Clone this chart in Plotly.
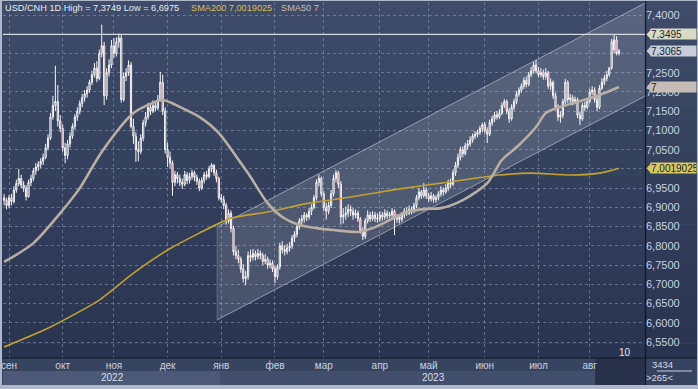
import plotly.graph_objects as go
import pandas as pd

# ---------------- data (USD/CNH daily, 30 Aug 2022 .. 17 Aug 2023) ----------------
opens = [
    6.925, 6.918, 6.905, 6.925, 6.915, 6.945, 6.962, 6.975, 6.958, 6.950,
    6.928, 6.965, 6.975, 6.995, 7.005, 7.012, 7.020, 7.030, 7.055, 7.080,
    7.135, 7.165, 7.175, 7.125, 7.105, 7.055, 7.035, 7.065, 7.085, 7.110,
    7.135, 7.150, 7.170, 7.185, 7.195, 7.205, 7.225, 7.245, 7.262, 7.235,
    7.300, 7.320, 7.190, 7.250, 7.270, 7.320, 7.300, 7.330, 7.340, 7.180,
    7.240, 7.250, 7.270, 7.110, 7.085, 7.050, 7.045, 7.080, 7.120, 7.135,
    7.160, 7.150, 7.165, 7.158, 7.180, 7.225, 7.150, 7.050, 7.030, 7.015,
    6.965, 6.985, 6.975, 6.965, 6.960, 6.985, 6.970, 6.980, 6.990, 6.978,
    6.968, 6.950, 6.970, 6.985, 6.980, 7.000, 7.010, 6.990, 6.975, 6.925,
    6.920, 6.905, 6.865, 6.885, 6.845, 6.785, 6.775, 6.765, 6.740, 6.715,
    6.720, 6.775, 6.770, 6.780, 6.772, 6.780, 6.775, 6.760, 6.765, 6.750,
    6.755, 6.740, 6.720, 6.745, 6.800, 6.790, 6.785, 6.795, 6.800, 6.820,
    6.830, 6.850, 6.865, 6.870, 6.880, 6.875, 6.890, 6.900, 6.925, 6.965,
    6.975, 6.935, 6.900, 6.890, 6.905, 6.935, 6.975, 6.990, 6.960, 6.875,
    6.880, 6.885, 6.895, 6.890, 6.880, 6.885, 6.870, 6.840, 6.825, 6.865,
    6.880, 6.870, 6.880, 6.872, 6.870, 6.880, 6.875, 6.885, 6.878, 6.880,
    6.890, 6.870, 6.875, 6.868, 6.880, 6.890, 6.885, 6.895, 6.890, 6.905,
    6.925, 6.940, 6.930, 6.945, 6.930, 6.922, 6.930, 6.920, 6.925, 6.935,
    6.945, 6.940, 6.950, 6.965, 6.960, 6.990, 7.010, 7.030, 7.050, 7.040,
    7.060, 7.065, 7.075, 7.085, 7.090, 7.095, 7.105, 7.115, 7.100, 7.090,
    7.120, 7.130, 7.140, 7.135, 7.145, 7.165, 7.175, 7.150, 7.130, 7.160,
    7.175, 7.195, 7.205, 7.215, 7.230, 7.220, 7.245, 7.255, 7.270, 7.255,
    7.245, 7.250, 7.240, 7.250, 7.215, 7.225, 7.190, 7.160, 7.135, 7.140,
    7.175, 7.225, 7.180, 7.185, 7.175, 7.180, 7.140, 7.130, 7.165, 7.160,
    7.175, 7.200, 7.205, 7.180, 7.160, 7.210, 7.225, 7.235, 7.245, 7.262,
    7.310, 7.335, 7.300,
]
highs = [
    6.935, 6.925, 6.932, 6.935, 6.955, 6.972, 7.000, 6.985, 6.968, 6.958,
    6.972, 6.985, 7.002, 7.015, 7.020, 7.028, 7.040, 7.065, 7.090, 7.145,
    7.190, 7.268, 7.218, 7.140, 7.115, 7.068, 7.075, 7.095, 7.118, 7.142,
    7.160, 7.178, 7.195, 7.205, 7.215, 7.232, 7.255, 7.275, 7.280, 7.310,
    7.3749, 7.330, 7.262, 7.285, 7.335, 7.340, 7.342, 7.352, 7.348, 7.250,
    7.262, 7.282, 7.278, 7.130, 7.095, 7.072, 7.090, 7.128, 7.148, 7.172,
    7.168, 7.178, 7.175, 7.192, 7.252, 7.245, 7.160, 7.068, 7.045, 7.022,
    6.995, 6.992, 6.985, 6.975, 6.995, 6.992, 6.990, 6.998, 6.995, 6.985,
    6.975, 6.978, 6.992, 6.995, 7.008, 7.015, 7.012, 6.998, 6.980, 6.935,
    6.930, 6.912, 6.895, 6.892, 6.852, 6.800, 6.790, 6.772, 6.752, 6.735,
    6.785, 6.790, 6.792, 6.788, 6.792, 6.788, 6.782, 6.778, 6.772, 6.765,
    6.762, 6.748, 6.752, 6.808, 6.812, 6.802, 6.805, 6.810, 6.828, 6.838,
    6.858, 6.872, 6.880, 6.888, 6.885, 6.898, 6.908, 6.932, 6.972, 6.985,
    6.980, 6.942, 6.912, 6.915, 6.945, 6.985, 6.997, 6.995, 6.968, 6.898,
    6.902, 6.908, 6.905, 6.898, 6.895, 6.892, 6.875, 6.848, 6.872, 6.892,
    6.888, 6.890, 6.888, 6.885, 6.890, 6.888, 6.895, 6.892, 6.888, 6.898,
    6.895, 6.882, 6.882, 6.888, 6.898, 6.900, 6.905, 6.902, 6.912, 6.932,
    6.950, 6.945, 6.963, 6.952, 6.938, 6.940, 6.935, 6.932, 6.942, 6.955,
    6.952, 6.960, 6.972, 6.975, 6.998, 7.018, 7.040, 7.058, 7.058, 7.068,
    7.075, 7.085, 7.092, 7.098, 7.102, 7.112, 7.120, 7.122, 7.108, 7.128,
    7.138, 7.148, 7.150, 7.155, 7.172, 7.182, 7.180, 7.158, 7.168, 7.182,
    7.202, 7.212, 7.222, 7.238, 7.240, 7.252, 7.265, 7.278, 7.283, 7.265,
    7.262, 7.258, 7.262, 7.255, 7.235, 7.230, 7.198, 7.168, 7.150, 7.182,
    7.234, 7.230, 7.195, 7.192, 7.188, 7.185, 7.148, 7.172, 7.175, 7.182,
    7.208, 7.215, 7.212, 7.188, 7.218, 7.236, 7.244, 7.255, 7.265, 7.338,
    7.3495, 7.345, 7.312,
]
lows = [
    6.905, 6.895, 6.898, 6.905, 6.910, 6.938, 6.955, 6.950, 6.940, 6.918,
    6.925, 6.955, 6.968, 6.985, 6.995, 7.002, 7.010, 7.025, 7.048, 7.075,
    7.128, 7.150, 7.110, 7.095, 7.045, 7.015, 7.025, 7.055, 7.078, 7.102,
    7.125, 7.142, 7.160, 7.175, 7.185, 7.198, 7.218, 7.238, 7.225, 7.230,
    7.290, 7.166, 7.180, 7.240, 7.262, 7.288, 7.292, 7.315, 7.172, 7.175,
    7.228, 7.242, 7.105, 7.065, 7.018, 7.020, 7.038, 7.072, 7.110, 7.128,
    7.140, 7.145, 7.150, 7.152, 7.175, 7.140, 7.040, 7.005, 7.000, 6.930,
    6.955, 6.962, 6.955, 6.948, 6.955, 6.960, 6.962, 6.972, 6.968, 6.958,
    6.942, 6.945, 6.962, 6.972, 6.975, 6.992, 6.982, 6.965, 6.918, 6.912,
    6.895, 6.855, 6.858, 6.835, 6.775, 6.765, 6.755, 6.730, 6.705, 6.6975,
    6.712, 6.758, 6.762, 6.762, 6.765, 6.765, 6.750, 6.752, 6.740, 6.742,
    6.732, 6.703, 6.712, 6.738, 6.780, 6.775, 6.778, 6.785, 6.792, 6.810,
    6.822, 6.842, 6.855, 6.860, 6.865, 6.868, 6.880, 6.895, 6.918, 6.955,
    6.928, 6.890, 6.868, 6.882, 6.898, 6.928, 6.965, 6.950, 6.855, 6.858,
    6.868, 6.875, 6.878, 6.868, 6.872, 6.862, 6.832, 6.815, 6.818, 6.858,
    6.862, 6.865, 6.862, 6.860, 6.862, 6.865, 6.868, 6.870, 6.872, 6.872,
    6.828, 6.860, 6.858, 6.862, 6.872, 6.878, 6.880, 6.882, 6.885, 6.898,
    6.918, 6.922, 6.925, 6.922, 6.915, 6.915, 6.912, 6.912, 6.918, 6.928,
    6.930, 6.935, 6.942, 6.950, 6.955, 6.982, 7.002, 7.022, 7.030, 7.035,
    7.050, 7.058, 7.068, 7.078, 7.082, 7.088, 7.095, 7.092, 7.067, 7.085,
    7.112, 7.122, 7.128, 7.130, 7.140, 7.158, 7.142, 7.120, 7.125, 7.152,
    7.168, 7.188, 7.198, 7.208, 7.212, 7.215, 7.238, 7.248, 7.248, 7.238,
    7.238, 7.232, 7.232, 7.208, 7.205, 7.182, 7.152, 7.125, 7.120, 7.132,
    7.168, 7.172, 7.170, 7.165, 7.168, 7.132, 7.114, 7.125, 7.150, 7.155,
    7.170, 7.192, 7.172, 7.150, 7.155, 7.205, 7.218, 7.228, 7.240, 7.258,
    7.300, 7.295, 7.295,
]
closes = [
    6.918, 6.905, 6.925, 6.915, 6.945, 6.962, 6.975, 6.958, 6.950, 6.928,
    6.965, 6.975, 6.995, 7.005, 7.012, 7.020, 7.030, 7.055, 7.080, 7.135,
    7.165, 7.175, 7.125, 7.105, 7.055, 7.035, 7.065, 7.085, 7.110, 7.135,
    7.150, 7.170, 7.185, 7.195, 7.205, 7.225, 7.245, 7.262, 7.235, 7.300,
    7.320, 7.190, 7.250, 7.270, 7.320, 7.300, 7.330, 7.340, 7.180, 7.240,
    7.250, 7.270, 7.110, 7.085, 7.050, 7.045, 7.080, 7.120, 7.135, 7.160,
    7.150, 7.165, 7.158, 7.180, 7.225, 7.150, 7.050, 7.030, 7.015, 6.965,
    6.985, 6.975, 6.965, 6.960, 6.985, 6.970, 6.980, 6.990, 6.978, 6.968,
    6.950, 6.970, 6.985, 6.980, 7.000, 7.010, 6.990, 6.975, 6.925, 6.920,
    6.905, 6.865, 6.885, 6.845, 6.785, 6.775, 6.765, 6.740, 6.715, 6.720,
    6.775, 6.770, 6.780, 6.772, 6.780, 6.775, 6.760, 6.765, 6.750, 6.755,
    6.740, 6.720, 6.745, 6.800, 6.790, 6.785, 6.795, 6.800, 6.820, 6.830,
    6.850, 6.865, 6.870, 6.880, 6.875, 6.890, 6.900, 6.925, 6.965, 6.975,
    6.935, 6.900, 6.890, 6.905, 6.935, 6.975, 6.990, 6.960, 6.875, 6.880,
    6.885, 6.895, 6.890, 6.880, 6.885, 6.870, 6.840, 6.825, 6.865, 6.880,
    6.870, 6.880, 6.872, 6.870, 6.880, 6.875, 6.885, 6.878, 6.880, 6.890,
    6.870, 6.875, 6.868, 6.880, 6.890, 6.885, 6.895, 6.890, 6.905, 6.925,
    6.940, 6.930, 6.945, 6.930, 6.922, 6.930, 6.920, 6.925, 6.935, 6.945,
    6.940, 6.950, 6.965, 6.960, 6.990, 7.010, 7.030, 7.050, 7.040, 7.060,
    7.065, 7.075, 7.085, 7.090, 7.095, 7.105, 7.115, 7.100, 7.090, 7.120,
    7.130, 7.140, 7.135, 7.145, 7.165, 7.175, 7.150, 7.130, 7.160, 7.175,
    7.195, 7.205, 7.215, 7.230, 7.220, 7.245, 7.255, 7.270, 7.255, 7.245,
    7.250, 7.240, 7.250, 7.215, 7.225, 7.190, 7.160, 7.135, 7.140, 7.175,
    7.225, 7.180, 7.185, 7.175, 7.180, 7.140, 7.130, 7.165, 7.160, 7.175,
    7.200, 7.205, 7.180, 7.160, 7.210, 7.225, 7.235, 7.245, 7.262, 7.330,
    7.335, 7.300, 7.3065,
]

# moving averages (bar number -> value)
sma50_bar = [-2, 10, 21, 29, 38, 51, 58, 63, 71, 78, 86, 95, 99, 106, 112, 119,
             126, 133, 143, 149, 156, 163, 171, 177, 186, 196, 202, 209, 216,
             220, 226, 233, 242, 250]
sma50_val = [6.758, 6.807, 6.885, 6.950, 7.044, 7.145, 7.169, 7.179, 7.158, 7.135,
             7.093, 7.015, 6.979, 6.911, 6.875, 6.854, 6.846, 6.841, 6.836, 6.846,
             6.867, 6.888, 6.896, 6.898, 6.919, 6.963, 7.023, 7.062, 7.109, 7.145,
             7.161, 7.174, 7.192, 7.213]
sma200_bar = [-2, 17, 37, 51, 65, 78, 91, 106, 123, 140, 160, 177, 201, 214, 230, 242, 250]
sma200_val = [6.537, 6.589, 6.659, 6.729, 6.789, 6.833, 6.872, 6.888, 6.911, 6.927,
              6.948, 6.963, 6.984, 6.989, 6.984, 6.989, 7.0019025]

month_names = ["янв", "фев", "мар", "апр", "май", "июн",
               "июл", "авг", "сен", "окт", "ноя", "дек"]
y_ticks = [6.55, 6.60, 6.65, 6.70, 6.75, 6.80, 6.85, 6.90, 6.95, 7.00,
           7.05, 7.10, 7.15, 7.20, 7.25, 7.30, 7.35, 7.40]
y_hidden = [7.00, 7.30, 7.35]          # tick labels covered by value tags
level_line = 7.3495
channel_bar = [85.2, 260.66]
channel_upper = [6.849, 7.431]
channel_lower = [6.607, 7.189]

# ---------------- build ----------------
dates = pd.bdate_range("2022-08-30", periods=len(closes))
bars = list(range(-2, len(closes) - 2))

tickvals, ticktext, year_start = [], [], {}
for k in range(1, len(dates)):
    if dates[k].month != dates[k - 1].month:
        tickvals.append(bars[k])
        ticktext.append(month_names[dates[k].month - 1])
    if dates[k].year != dates[k - 1].year:
        year_start[dates[k].year] = bars[k]

XMIN, XMAX = -2.46, 260.66
YMIN, YMAX = 6.5084, 7.4338
FONT = "Liberation Sans, Arial, sans-serif"


def px(p):
    return (p - 3) / 642.0


def py(p):
    return (358 - p) / 356.0


fig = go.Figure()

fig.add_trace(go.Candlestick(
    x=bars, open=opens, high=highs, low=lows, close=closes,
    increasing=dict(line=dict(color="#f6f6f6", width=1), fillcolor="rgba(0,0,0,0)"),
    decreasing=dict(line=dict(color="#f6f6f6", width=1), fillcolor="#c42a4c"),
    whiskerwidth=0, showlegend=False, hoverinfo="skip"))

fig.add_trace(go.Scatter(x=sma200_bar, y=sma200_val, mode="lines",
                         line=dict(color="#c4a02e", width=1.6, shape="spline", smoothing=0.6),
                         showlegend=False, hoverinfo="skip"))
fig.add_trace(go.Scatter(x=sma50_bar, y=sma50_val, mode="lines",
                         line=dict(color="#b9aea3", width=2.6, shape="spline", smoothing=0.8),
                         showlegend=False, hoverinfo="skip"))

shapes = []
# gradient background
N = 24
top_c, bot_c = (62, 76, 105), (40, 52, 80)
for k in range(N):
    t = k / (N - 1)
    c = tuple(int(round(top_c[j] + (bot_c[j] - top_c[j]) * t)) for j in range(3))
    shapes.append(dict(type="rect", xref="paper", yref="paper", layer="below",
                       x0=px(2), x1=px(697), y0=py(1 + 357 * (k + 1) / N) - 0.002,
                       y1=py(1 + 357 * k / N), line=dict(width=0),
                       fillcolor="rgb(%d,%d,%d)" % c))
# bottom rows
shapes.append(dict(type="rect", xref="paper", yref="paper", layer="below",
                   x0=px(2), x1=px(646), y0=py(385), y1=py(358),
                   line=dict(width=0), fillcolor="#37445f"))
shapes.append(dict(type="rect", xref="x", yref="paper", layer="below",
                   x0=XMIN, x1=year_start[2023] - 0.5, y0=py(385), y1=py(371),
                   line=dict(width=0), fillcolor="#4b5877"))
shapes.append(dict(type="rect", xref="x", yref="paper", layer="below",
                   x0=year_start[2023] - 0.5, x1=XMAX, y0=py(385), y1=py(371),
                   line=dict(width=0), fillcolor="#414e6c"))
shapes.append(dict(type="rect", xref="paper", yref="paper", layer="below",
                   x0=px(595), x1=px(645), y0=py(385), y1=py(358),
                   line=dict(width=0), fillcolor="#28324a"))
shapes.append(dict(type="rect", xref="paper", yref="paper", layer="below",
                   x0=px(646), x1=px(697), y0=py(385), y1=py(358),
                   line=dict(width=0), fillcolor="#36435f"))
# separators
shapes.append(dict(type="line", xref="paper", yref="paper", x0=px(2), x1=px(697),
                   y0=py(358), y1=py(358), line=dict(color="#121826", width=1.2)))
shapes.append(dict(type="line", xref="paper", yref="paper", x0=px(645.5), x1=px(645.5),
                   y0=py(385), y1=py(1), line=dict(color="#121826", width=1.2)))
shapes.append(dict(type="line", xref="paper", yref="paper", x0=px(657), x1=px(692),
                   y0=py(371), y1=py(371), line=dict(color="#c8d0e0", width=1)))

# channel
shapes.append(dict(type="path", xref="x", yref="y", layer="between",
                   path="M %f,%f L %f,%f L %f,%f L %f,%f Z" % (
                       channel_bar[0], channel_upper[0], channel_bar[1], channel_upper[1],
                       channel_bar[1], channel_lower[1], channel_bar[0], channel_lower[0]),
                   fillcolor="rgba(255,255,255,0.14)", line=dict(width=0)))
for ys in (channel_upper, channel_lower):
    shapes.append(dict(type="line", xref="x", yref="y", layer="between",
                       x0=channel_bar[0], x1=channel_bar[1], y0=ys[0], y1=ys[1],
                       line=dict(color="rgba(215,220,230,0.55)", width=1)))
shapes.append(dict(type="line", xref="x", yref="y", layer="between",
                   x0=channel_bar[0], x1=channel_bar[0], y0=channel_lower[0], y1=channel_upper[0],
                   line=dict(color="rgba(215,220,230,0.18)", width=1)))

# horizontal level
shapes.append(dict(type="line", xref="paper", yref="y", x0=0, x1=1,
                   y0=level_line, y1=level_line, line=dict(color="#d4d8e0", width=1.2)))

annotations = []
# right-side value tags
tags = [
    (level_line, "7,3495", "#d9dcc3"),
    (closes[-1], "7,3065", "#c6ccd8"),
    (sma50_val[-1], "7", "#c6beb6"),
    (sma200_val[-1], "7,0019025", "#d9c95c"),
]
for val, txt, col in tags:
    d = 5.0 / 384.7
    shapes.append(dict(type="path", xref="paper", yref="y",
                       path="M %f,%f L %f,%f L %f,%f Z" % (px(651), val + d, px(646.5), val,
                                                           px(651), val - d),
                       fillcolor=col, line=dict(width=0)))
    annotations.append(dict(xref="paper", yref="y", x=px(650), y=val, xanchor="left",
                            yanchor="middle", text=txt, showarrow=False, align="left",
                            bgcolor=col, width=45, height=10, borderpad=0,
                            font=dict(family=FONT, size=10, color="#1c2230")))

# header texts
annotations.append(dict(xref="paper", yref="paper", x=px(3), y=py(8), xanchor="left",
                        yanchor="middle", showarrow=False,
                        text="USD/CNH 1D High = 7,3749 Low = 6,6975",
                        font=dict(family=FONT, size=9.2, color="#e6eaf2")))
annotations.append(dict(xref="paper", yref="paper", x=px(189), y=py(8), xanchor="left",
                        yanchor="middle", showarrow=False, text="SMA200 7,0019025",
                        font=dict(family=FONT, size=9.2, color="#d8bf55")))
annotations.append(dict(xref="paper", yref="paper", x=px(279), y=py(8), xanchor="left",
                        yanchor="middle", showarrow=False, text="SMA50 7",
                        font=dict(family=FONT, size=9.2, color="#c6beb4")))
# year labels
annotations.append(dict(xref="x", yref="paper", x=(XMIN + year_start[2023]) / 2, y=py(378),
                        text="2022", showarrow=False, yanchor="middle",
                        font=dict(family=FONT, size=10, color="#d8dfec")))
annotations.append(dict(xref="x", yref="paper", x=(year_start[2023] + XMAX) / 2, y=py(378),
                        text="2023", showarrow=False, yanchor="middle",
                        font=dict(family=FONT, size=10, color="#d8dfec")))
# misc
annotations.append(dict(xref="paper", yref="paper", x=px(633), y=py(352), xanchor="right",
                        yanchor="middle", text="10", showarrow=False,
                        font=dict(family=FONT, size=10, color="#e0e6f0")))
annotations.append(dict(xref="paper", yref="paper", x=px(675), y=py(364),
                        yanchor="middle", text="3434", showarrow=False,
                        font=dict(family=FONT, size=9.5, color="#d0d8e6")))
annotations.append(dict(xref="paper", yref="paper", x=px(675), y=py(377.5),
                        yanchor="middle", text="&gt;265&lt;", showarrow=False,
                        font=dict(family=FONT, size=9.5, color="#d0d8e6")))

y_text = ["" if any(abs(v - h) < 1e-9 for h in y_hidden) else ("%.4f" % v).replace(".", ",")
          for v in y_ticks]

grid_col = "rgba(140,156,190,0.55)"
fig.update_layout(
    width=698, height=389,
    margin=dict(l=3, r=53, t=2, b=31),
    paper_bgcolor="#aeb8ca", plot_bgcolor="rgba(0,0,0,0)",
    separators=", ",
    font=dict(family=FONT),
    shapes=shapes, annotations=annotations,
    xaxis=dict(range=[XMIN, XMAX], tickmode="array", tickvals=tickvals, ticktext=ticktext,
               showgrid=True, gridcolor=grid_col, griddash="3px,3px", gridwidth=1,
               zeroline=False, showline=False, ticks="",
               tickfont=dict(family=FONT, size=10, color="#c9d1e1"),
               rangeslider=dict(visible=False), fixedrange=True),
    yaxis=dict(range=[YMIN, YMAX], side="right", tickmode="array", tickvals=y_ticks,
               ticktext=y_text, showgrid=True, gridcolor=grid_col, griddash="3px,3px",
               gridwidth=1, zeroline=False, showline=False, ticks="",
               tickfont=dict(family=FONT, size=11, color="#c9d1e1"), fixedrange=True),
)

fig.write_html("out.html", config={"displayModeBar": False},
               post_script="document.body.style.margin='0';document.body.style.overflow='hidden';")
